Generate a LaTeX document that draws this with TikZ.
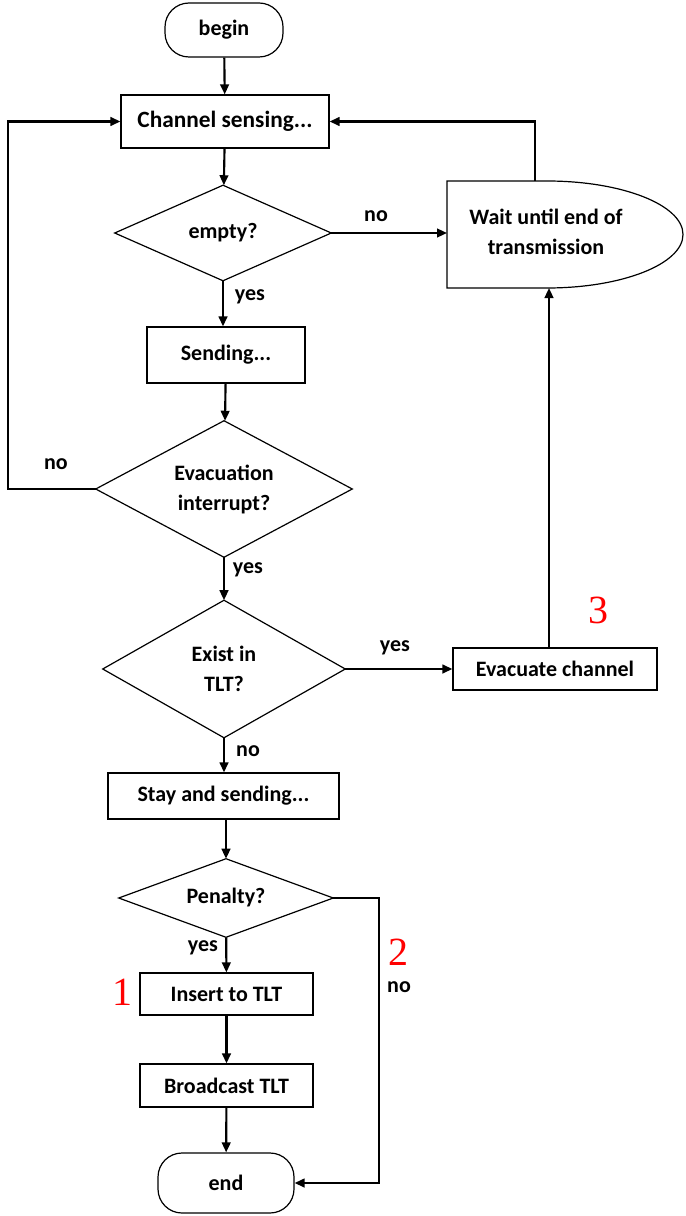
\documentclass[tikz,border=0pt]{standalone}
\usepackage{fontspec}
\setmainfont{Carlito}
\newfontfamily\tnr{Liberation Serif}
\usetikzlibrary{arrows.meta}
\begin{document}
\begin{tikzpicture}[x=0.75pt,y=-0.75pt,
  txt/.style={font=\bfseries\fontsize{16.5}{22.5}\selectfont,align=center,inner sep=0pt},
  box/.style={txt,draw,line width=0.9pt,rectangle},
  term/.style={box,rounded corners=18pt},
  dia/.style={txt,rectangle},
  dline/.style={line width=0.9pt,line join=miter},
  arr/.style={line width=1.6pt,-{Triangle[length=7.5pt,width=6.5pt]}},
  lbl/.style={txt},
  num/.style={font=\tnr\fontsize{30}{30}\selectfont,text=red,inner sep=0pt}]
\useasboundingbox (0,0) rectangle (685,1216);
% nodes
\node[term,minimum width=88.5pt,minimum height=40.5pt] (begin) at (224,30) {begin};
\node[box,minimum width=156pt,minimum height=39.75pt,font=\bfseries\fontsize{17.5}{22}\selectfont] (chan) at (225,121.5) {Channel sensing...};
\node[dia,minimum width=162pt,minimum height=71.25pt] (empty) at (223,233) {empty?};
\node[box,minimum width=118.5pt,minimum height=42pt] (send) at (226,355) {Sending...};
\node[dia,minimum width=192pt,minimum height=102pt] (evac) at (224,489) {Evacuation\\interrupt?};
\node[dia,minimum width=181.5pt,minimum height=102.75pt] (exist) at (224,669) {Exist in\\TLT?};
\node[box,minimum width=153pt,minimum height=31.5pt] (evcch) at (555,669) {Evacuate channel};
\node[box,minimum width=173.25pt,minimum height=34.5pt] (stay) at (223.5,796) {Stay and sending...};
\node[dia,minimum width=160.5pt,minimum height=58.5pt] (pen) at (226,898) {Penalty?};
\node[box,minimum width=129.75pt,minimum height=31.5pt] (ins) at (226.5,994) {Insert to TLT};
\node[box,minimum width=129.75pt,minimum height=32.25pt] (broad) at (226.5,1085.5) {Broadcast TLT};
\node[term,minimum width=102pt,minimum height=45pt] (end) at (226,1183) {end};
\node[txt] (wait) at (546,232) {Wait until end of\\transmission};
% diamonds
\foreach \d in {empty,evac,exist,pen}
  \draw[dline] (\d.north) -- (\d.east) -- (\d.south) -- (\d.west) -- cycle;
% wait (delay) shape
\draw[dline] (447,181) -- (547,181) arc[start angle=90,end angle=-90,x radius=102pt,y radius=40.125pt] -- (447,288) -- cycle;
\coordinate (wl) at (447,233);
\coordinate (wt) at (535,181);
\coordinate (wb) at (549,288);
\coordinate (lft) at (8,300);
\coordinate (rt) at (379,1000);
% connectors
\draw[arr] (begin) -- (chan);
\draw[arr] (chan) -- (empty);
\draw[arr] (empty.east) -- (wl);
\draw[arr] (wt) |- (chan.east);
\draw[arr] (evac.west) -| (lft) |- (chan.west);
\draw[arr] (empty.south) -- (send.north -| empty.south);
\draw[arr] (send) -- (evac);
\draw[arr] (evac) -- (exist);
\draw[arr] (exist.east) -- (evcch.west);
\draw[arr] (wb |- evcch.north) -- (wb);
\draw[arr] (exist) -- (stay.north -| exist.south);
\draw[arr] (stay.south -| pen.north) -- (pen);
\draw[arr] (pen) -- (ins);
\draw[arr] (ins) -- (broad);
\draw[arr] (broad) -- (end);
\draw[arr] (pen.east) -| (rt) |- (end.east);
% labels
\node[lbl] (l1) at (376,216) {no};
\node[lbl] (l2) at (250,297) {yes};
\node[lbl] (l3) at (56,464) {no};
\node[lbl] (l4) at (248,570) {yes};
\node[lbl] (l5) at (395,648) {yes};
\node[lbl] (l6) at (248,751) {no};
\node[lbl] (l7) at (203,948) {yes};
\node[lbl] (l8) at (399,987) {no};
\node[num] (n1) at (122,992) {1};
\node[num] (n2) at (398,952) {2};
\node[num] (n3) at (598,610) {3};
\end{tikzpicture}
\end{document}
